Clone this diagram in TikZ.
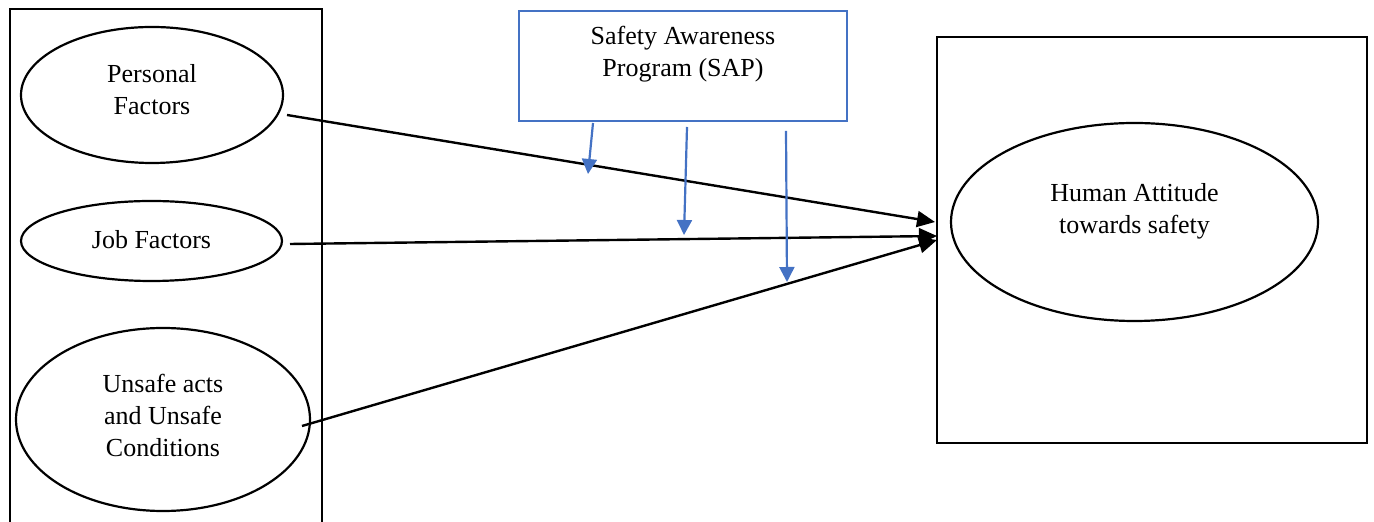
\documentclass[tikz,border=0pt]{standalone}
\usepackage{fontspec}
\setmainfont{Liberation Serif}
\usetikzlibrary{arrows.meta,shapes.geometric}
\definecolor{sapblue}{HTML}{4472C4}
\tikzset{
  oval/.style={draw, line width=1.1pt, ellipse, inner sep=0pt, align=center},
  frame/.style={draw, line width=1.1pt},
  lbl/.style={align=center, font=\fontsize{13}{16}\selectfont, inner sep=0pt},
  cause/.style={line width=1.2pt, -{Triangle[length=9pt,width=8pt]}},
  moder/.style={sapblue, line width=1.1pt, -{Triangle[length=7.5pt,width=7.5pt]}}
}
\begin{document}
\begin{tikzpicture}[x=0.5pt,y=-0.5pt]
\useasboundingbox (0,0) rectangle (1374,522);
% left frame (bottom edge cut off)
\draw[line width=1.1pt] (10,522) -- (10,9) -- (322,9) -- (322,522);
% right frame
\node[frame, minimum width=215pt, minimum height=203pt, inner sep=0pt] (rbox) at (1152,240) {};
% SAP box
\node[draw=sapblue, line width=1.1pt, minimum width=164pt, minimum height=55pt, inner sep=0pt] (sap) at (683,66) {};
\node[lbl] (saptext) at (683,54) {Safety Awareness\\Program (SAP)};
% ellipses
\node[oval, minimum width=131pt, minimum height=68pt] (pers) at (152,95) {};
\node[lbl] (perstext) at (152,90) {Personal\\Factors};
\node[oval, minimum width=130.5pt, minimum height=40pt] (job) at (151.5,241) {};
\node[lbl] (jobtext) at (151.5,240) {Job Factors};
\node[oval, minimum width=147pt, minimum height=91.5pt] (unsafe) at (163,419.5) {};
\node[lbl] (unsafetext) at (163,415) {Unsafe acts\\and Unsafe\\Conditions};
\node[oval, minimum width=183.5pt, minimum height=99pt] (human) at (1134.5,222) {};
\node[lbl] (humantext) at (1134.5,211) {Human Attitude\\towards safety};
% connector endpoints
\coordinate (p1) at (287,115);
\coordinate (p2) at (290,244);
\coordinate (p3) at (302,426);
\coordinate (h1) at (935,222);
\coordinate (h2) at (937,236);
\coordinate (h3) at (937,240);
\draw[cause] (p1) -- (h1);
\draw[cause] (p2) -- (h2);
\draw[cause] (p3) -- (h3);
% moderating arrows
\coordinate (s1) at (593,123);
\coordinate (t1) at (588,174);
\coordinate (s2) at (687,127);
\coordinate (t2) at (684,235);
\coordinate (s3) at (786,131);
\coordinate (t3) at (787,282);
\draw[moder] (s1) -- (t1);
\draw[moder] (s2) -- (t2);
\draw[moder] (s3) -- (t3);
\end{tikzpicture}
\end{document}
